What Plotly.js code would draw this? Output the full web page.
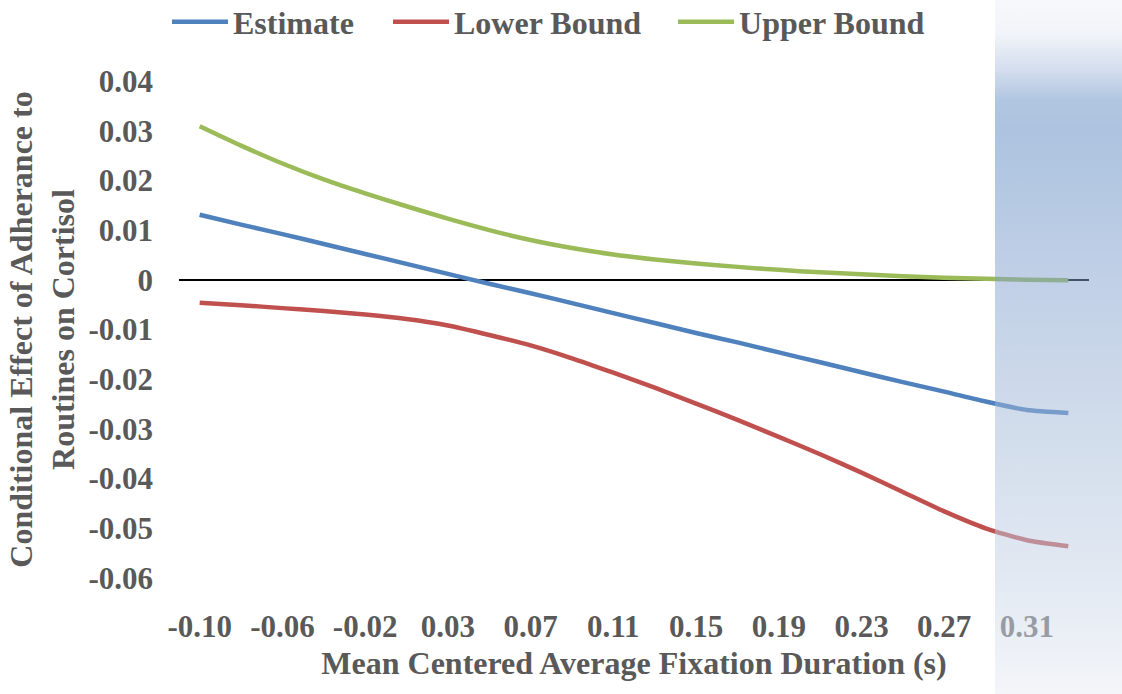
<!DOCTYPE html>
<html>
<head>
<meta charset="utf-8">
<script src="https://cdn.plot.ly/plotly-3.0.1.min.js"></script>
<style>
  html, body { margin: 0; padding: 0; background: #ffffff; }
  #chart { width: 1122px; height: 694px; }
</style>
</head>
<body>
<div id="chart"></div>
<script>
// ---- data ----
const categories = ["-0.10", "-0.08", "-0.06", "-0.04", "-0.02", "0.01", "0.03", "0.05", "0.07", "0.09", "0.11",
                    "0.13", "0.15", "0.17", "0.19", "0.21", "0.23", "0.25", "0.27", "0.29", "0.31", "0.33"];
const xTickLabels = ["-0.10", "-0.06", "-0.02", "0.03", "0.07", "0.11", "0.15", "0.19", "0.23", "0.27", "0.31"];

const estimate = [0.0131, 0.0111, 0.0092, 0.0072, 0.0052, 0.0032, 0.0012, -0.0008, -0.0027, -0.0047, -0.0067,
                  -0.0087, -0.0107, -0.0126, -0.0146, -0.0166, -0.0186, -0.0206, -0.0225, -0.0245, -0.0262, -0.0268];
const lowerBound = [-0.0046, -0.0051, -0.0057, -0.0063, -0.0070, -0.0079, -0.0092, -0.0111, -0.0132, -0.0158, -0.0187,
                    -0.0217, -0.0249, -0.0282, -0.0316, -0.0351, -0.0388, -0.0427, -0.0466, -0.0500, -0.0524, -0.0536];
const upperBound = [0.0309, 0.0270, 0.0234, 0.0202, 0.0174, 0.0148, 0.0123, 0.0100, 0.0080, 0.0064, 0.0051,
                    0.0041, 0.0033, 0.0026, 0.0020, 0.0015, 0.0011, 0.0007, 0.0004, 0.0002, 0.0000, -0.0001];

const yTickVals = [0.04, 0.03, 0.02, 0.01, 0, -0.01, -0.02, -0.03, -0.04, -0.05, -0.06];
const yTickText = ["0.04", "0.03", "0.02", "0.01", "0", "-0.01", "-0.02", "-0.03", "-0.04", "-0.05", "-0.06"];

// ---- styling ----
const FONT = 'Liberation Serif, Times New Roman, Times, serif';
const TEXT_COLOR = '#595959';

function lineTrace(name, values, color, legendId) {
  return {
    type: 'scatter', mode: 'lines', name: name, legend: legendId,
    x: categories, y: values,
    line: { color: color, width: 4.5, shape: 'spline', smoothing: 0.6 },
    hoverinfo: 'x+y+name'
  };
}

const traces = [
  lineTrace('Estimate', estimate, '#4f81bd', 'legend'),
  lineTrace('Lower Bound', lowerBound, '#c0504d', 'legend2'),
  lineTrace('Upper Bound', upperBound, '#9bbb59', 'legend3')
];

function legendAt(x) {
  return {
    orientation: 'h', x: x, xanchor: 'left', y: 1.119, yanchor: 'middle',
    itemwidth: 56,
    font: { family: FONT, size: 32, color: TEXT_COLOR, weight: 'bold' },
    bgcolor: 'rgba(0,0,0,0)'
  };
}

// soft vertical blue gradient band on the right-hand side
const gradSvg =
  '<svg xmlns="http://www.w3.org/2000/svg" width="127" height="694" viewBox="0 0 127 694" preserveAspectRatio="none">' +
  '<defs><linearGradient id="g" x1="0" y1="0" x2="0" y2="1">' +
  '<stop offset="0" stop-color="rgb(241,243,249)"/>' +
  '<stop offset="0.05" stop-color="rgb(228,234,244)"/>' +
  '<stop offset="0.1" stop-color="rgb(170,190,222)"/>' +
  '<stop offset="0.145" stop-color="rgb(100,142,196)"/>' +
  '<stop offset="0.19" stop-color="rgb(93,137,193)"/>' +
  '<stop offset="0.36" stop-color="rgb(125,157,205)"/>' +
  '<stop offset="0.58" stop-color="rgb(159,183,215)"/>' +
  '<stop offset="0.8" stop-color="rgb(193,208,229)"/>' +
  '<stop offset="1" stop-color="rgb(233,237,245)"/>' +
  '</linearGradient></defs>' +
  '<rect x="0" y="0" width="127" height="694" fill="url(#g)"/></svg>';

const layout = {
  width: 1122, height: 694,
  margin: { l: 179, r: 33, t: 81, b: 116, autoexpand: false },
  paper_bgcolor: '#ffffff', plot_bgcolor: '#ffffff',
  font: { family: FONT, size: 31, color: TEXT_COLOR, weight: 'bold' },
  showlegend: true,
  legend: legendAt(-0.0132),
  legend2: legendAt(0.2297),
  legend3: legendAt(0.5429),
  xaxis: {
    type: 'category', range: [-0.5, 21.5],
    tickmode: 'array', tickvals: xTickLabels, ticktext: xTickLabels,
    showgrid: false, zeroline: false, showline: false, ticks: '',
    ticklabelstandoff: 27,
    tickfont: { family: FONT, size: 31, color: TEXT_COLOR, weight: 'bold' },
    title: { text: 'Mean Centered Average Fixation Duration (s)', standoff: 8,
             font: { family: FONT, size: 32, color: TEXT_COLOR, weight: 'bold' } },
    automargin: false, fixedrange: true
  },
  yaxis: {
    range: [-0.06, 0.04],
    tickmode: 'array', tickvals: yTickVals, ticktext: yTickText,
    showgrid: false, showline: false, ticks: '',
    ticklabelstandoff: 25,
    zeroline: true, zerolinecolor: '#000000', zerolinewidth: 1.75,
    tickfont: { family: FONT, size: 31, color: TEXT_COLOR, weight: 'bold' },
    title: { text: 'Conditional Effect of Adherance to<br>Routines on Cortisol', standoff: 4,
             font: { family: FONT, size: 32, color: TEXT_COLOR, weight: 'bold' } },
    automargin: false, fixedrange: true
  },
  images: [{
    source: 'data:image/svg+xml;charset=utf-8,' + encodeURIComponent(gradSvg),
    xref: 'paper', yref: 'paper',
    x: (995 - 179) / 910, y: 578 / 497,
    sizex: 127 / 910, sizey: 694 / 497,
    xanchor: 'left', yanchor: 'top',
    sizing: 'stretch', layer: 'above', opacity: 0.5
  }]
};

Plotly.newPlot('chart', traces, layout, { displayModeBar: false, staticPlot: true });
</script>
</body>
</html>
